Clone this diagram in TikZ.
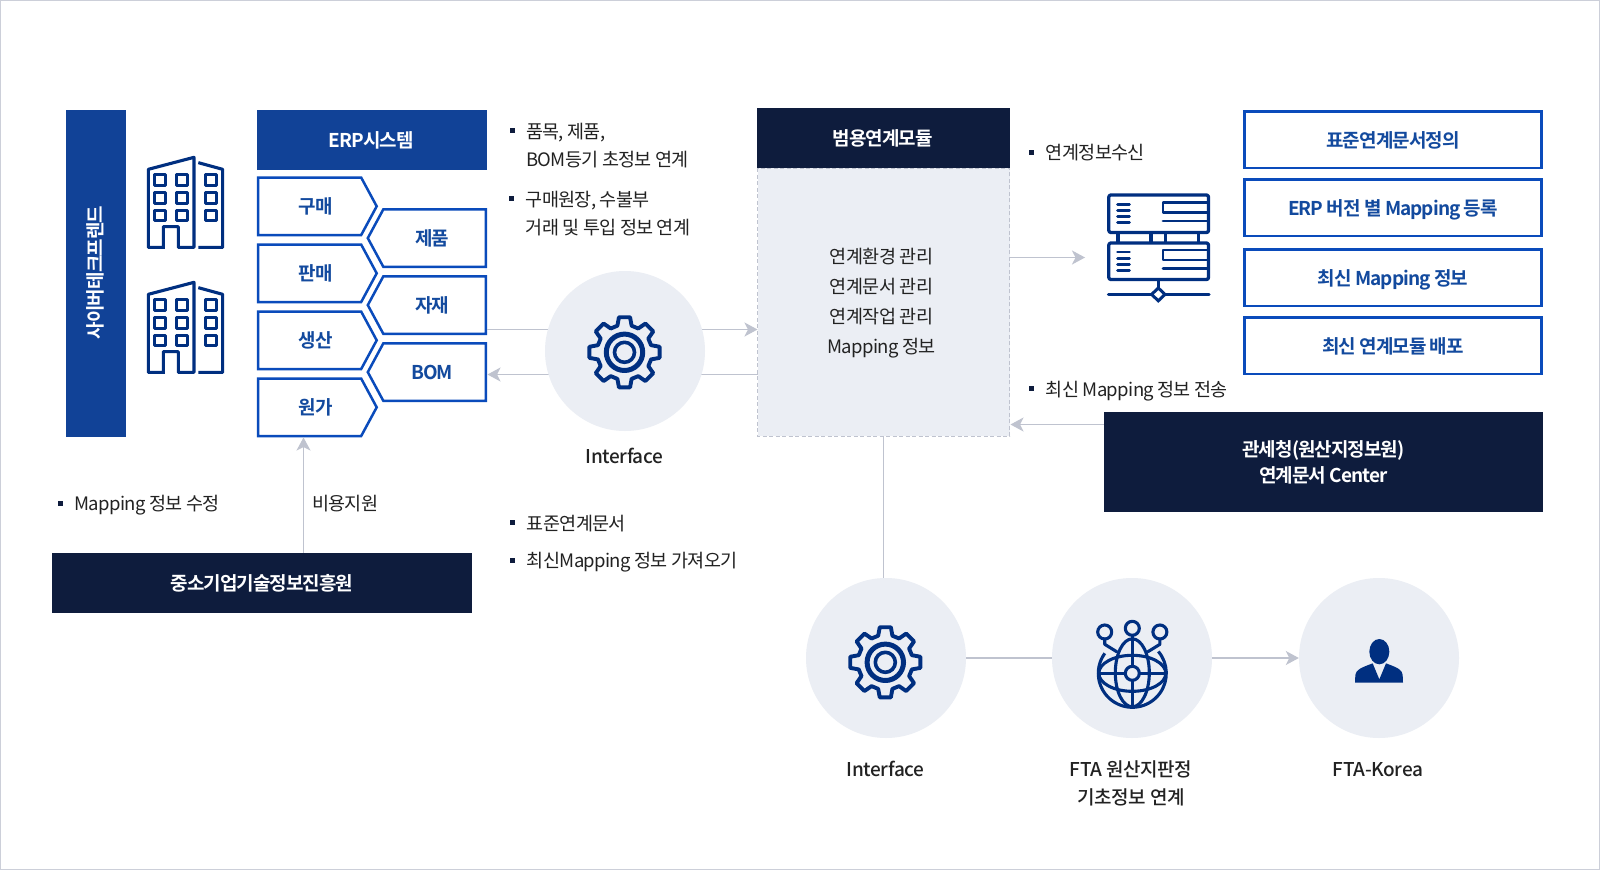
\documentclass[tikz,border=0pt]{standalone}
\usepackage{fontspec}
\usetikzlibrary{arrows.meta}
\setmainfont{Noto Sans CJK KR}
\newfontfamily\krreg{Noto Sans CJK KR}[LetterSpace=-3.5]
\newfontfamily\krmed{Noto Sans CJK KR Medium}[LetterSpace=-2]
\newfontfamily\krbold{Noto Sans CJK KR Bold}[LetterSpace=-5]
\definecolor{navy}{HTML}{0E1C3D}
\definecolor{erpblue}{HTML}{114297}
\definecolor{edgeblue}{HTML}{0A4BBB}
\definecolor{labelblue}{HTML}{134A9E}
\definecolor{iconblue}{HTML}{002F80}
\definecolor{pale}{HTML}{EBEEF4}
\definecolor{wire}{HTML}{BFC3CF}
\definecolor{ink}{HTML}{222222}
\tikzset{
  plaintext/.style={inner sep=0pt,text=ink,text height=16.6pt,text depth=2.6pt,font=\fontsize{18.5}{28}\selectfont\krreg},
  strongtext/.style={inner sep=0pt,text height=17.1pt,text depth=2.7pt,font=\fontsize{19}{26}\selectfont\krbold},
  inklabel/.style={inner sep=0pt,text=ink,text height=17.1pt,text depth=2.7pt,font=\fontsize{19}{26}\selectfont\krmed},
  outlinebox/.style={draw=edgeblue,line width=2.5pt,text=labelblue,strongtext,minimum width=297pt,minimum height=56.5pt},
  pentline/.style={draw=edgeblue,line width=2.5pt,line join=miter},
  wireline/.style={draw=wire,line width=1.1pt},
  wirearrow/.style={wireline,-{Stealth[length=13pt,width=14pt,inset=3.5pt]}},
  iconline/.style={draw=iconblue,line width=3.3pt,line cap=round,line join=round},
  disc/.style={fill=pale},
  bulletmark/.style={fill=navy,inner sep=0pt,minimum size=5pt}
}
\newcommand{\pentleft}[3]{%
  \draw[pentline] (258.2,#2) -- ++(103,0) -- ++(15.5,28.7) -- ++(-15.5,28.7) -- ++(-103,0) -- cycle;
  \node[strongtext,text=labelblue] (#1) at (315.8,#2+28.5) {#3};}
\newcommand{\pentright}[3]{%
  \draw[pentline] (485.8,#2) -- ++(-102.5,0) -- ++(-15.5,28.7) -- ++(15.5,28.7) -- ++(102.5,0) -- cycle;
  \node[strongtext,text=labelblue] (#1) at (432.2,#2+28.5) {#3};}
\newcommand{\bulletat}[2]{\node[bulletmark] at (#1,#2) {};}
\newcommand{\geardraw}[2]{%
  \begin{scope}[shift={(#1,#2)}]
    \draw[iconline,line width=3.9pt] (-15:27.5)
      foreach \a in {0,45,...,315}{ -- ({\a-9}:35.5) -- ({\a+9}:35.5) -- ({\a+15}:27.5) -- ({\a+30}:27.5) } -- cycle;
    \draw[iconline,line width=5pt] (0,0) circle[radius=18.2];
    \draw[iconline,line width=3.6pt] (0,0) circle[radius=10];
  \end{scope}}
\newcommand{\buildingdraw}[1]{%
  \begin{scope}[shift={(40,90+#1)},x=0.3333pt,y=-0.3333pt]
    \draw[iconline,line cap=butt,line width=3.1pt] (375,472) -- (325,472) -- (325,238) -- (462,202) -- (462,472) -- (415,472) -- (415,410) -- (370,410) -- (370,472);
    \draw[iconline,line cap=butt,line width=3.1pt] (475,218) -- (548,238) -- (548,472) -- (475,472);
    \foreach \xa in {343,410} \foreach \ya in {255,308,361}
      \draw[iconline,line width=3pt] (\xa,\ya) rectangle ++(34,32);
    \foreach \ya in {255,308,361}
      \draw[iconline,line width=3pt] (497,\ya) rectangle ++(34,32);
  \end{scope}}
\newcommand{\serverunit}[2]{%
  \draw[iconline,rounded corners=2pt] (1108.8,#1) rectangle (1208.5,#2);}
\begin{document}
\begin{tikzpicture}[x=1pt,y=-1pt]
\useasboundingbox (0,0) rectangle (1600,870);
\fill[white] (0,0) rectangle (1600,870);
\draw[draw=wire!80!white,line width=1pt] (0.5,0.5) rectangle (1599.5,869.5);

% left bar and buildings
\fill[erpblue] (66,110) rectangle (126,437);
\node[strongtext,text=white,rotate=90] (company) at (95.5,272.5) {사이버테크프렌드};
\buildingdraw{0}
\buildingdraw{125}

% ERP
\node[fill=erpblue,minimum width=230pt,minimum height=60pt] (erp) at (372,140) {};
\node[strongtext,text=white] at (371.2,140) {ERP시스템};
\pentleft{buy}{177.6}{구매}
\pentleft{sell}{244.6}{판매}
\pentleft{make}{311.6}{생산}
\pentleft{cost}{378.6}{원가}
\pentright{goods}{209.4}{제품}
\pentright{parts}{276.4}{자재}
\pentright{bom}{343.4}{BOM}

% connector coordinates
\coordinate (partsout) at (487,329.5);
\coordinate (modin) at (757.5,329.5);
\coordinate (modout) at (757.5,374.5);
\coordinate (bomin) at (487.5,374.5);
\draw[wirearrow] (partsout) -- (modin);
\draw[wirearrow] (modout) -- (bomin);

% module panel
\fill[pale] (757.5,168) rectangle (1009.8,436);
\draw[wire,line width=1pt,dash pattern=on 4pt off 2.5pt] (757.5,168) -- (757.5,436) -- (1009.8,436) -- (1009.8,168) -- cycle;
\node[fill=navy,minimum width=253pt,minimum height=60.5pt] (module) at (883.6,138) {};
\node[strongtext,text=white] at (882.6,138.5) {범용연계모듈};
\node[plaintext] at (881.5,256.5) {연계환경 관리};
\node[plaintext] at (881.5,286.5) {연계문서 관리};
\node[plaintext] at (881.5,316.5) {연계작업 관리};
\node[plaintext] at (881.5,346.5) {Mapping 정보};

% interface hub
\fill[disc] (625,351) circle[radius=80];
\geardraw{624.5}{352.3}
\node[inklabel] (hubtext) at (624.3,456.7) {Interface};

% text lists
\bulletat{512.7}{130.7}
\node[plaintext,anchor=west] at (526,131) {품목, 제품,};
\node[plaintext,anchor=west] at (526,159.3) {BOM등기 초정보 연계};
\bulletat{511.7}{198.3}
\node[plaintext,anchor=west] at (525.5,199) {구매원장, 수불부};
\node[plaintext,anchor=west] at (525.5,227.3) {거래 및 투입 정보 연계};
\bulletat{512.7}{522.3}
\node[plaintext,anchor=west] at (526.7,523) {표준연계문서};
\bulletat{512.7}{560}
\node[plaintext,anchor=west] at (526.7,560) {최신Mapping 정보 가져오기};
\bulletat{60}{503}
\node[plaintext,anchor=west] at (74.4,503) {Mapping 정보 수정};
\node[plaintext,anchor=west] at (312,503) {비용지원};
\bulletat{1031.4}{152}
\node[plaintext,anchor=west] at (1045.7,152) {연계정보수신};
\bulletat{1031.4}{388.3}
\node[plaintext,anchor=west] at (1045.7,389) {최신 Mapping 정보 전송};

% support box
\node[fill=navy,minimum width=420pt,minimum height=60pt] (support) at (262,583) {};
\node[strongtext,text=white] at (262,583.3) {중소기업기술정보진흥원};
\coordinate (costin) at (303.5,437.5);
\draw[wirearrow] (support.north -| costin) -- (costin);

% server arrow and icon
\coordinate (srvin) at (1085,257.5);
\draw[wirearrow] (1009.8,257.5) -- (srvin);
\serverunit{195}{232.5}
\serverunit{243}{279.5}
\draw[iconline,line cap=butt] (1118,233) -- (1118,243) (1151,233) -- (1151,243) (1165.7,233) -- (1165.7,243);
\draw[iconline,line cap=butt] (1198.3,233) -- (1198.3,243);
\foreach \yy in {204.3,210.7,216.7,222.7,252,258.3,264.3,270.3}
  \draw[iconline,line width=2.9pt] (1117.5,\yy) -- (1129.5,\yy);
\draw[iconline,line width=2.9pt,line cap=butt] (1207,202.6) -- (1163,202.6) -- (1163,212.4) -- (1207,212.4);
\draw[iconline,line width=2.9pt] (1207,221) -- (1163,221);
\draw[iconline,line width=2.9pt,line cap=butt] (1207,250) -- (1163,250) -- (1163,260) -- (1207,260);
\draw[iconline,line width=2.9pt] (1207,268.7) -- (1163,268.7);
\draw[iconline,line cap=butt] (1158.3,280) -- (1158.3,288);
\draw[iconline] (1108.5,294.4) -- (1209,294.4);
\draw[iconline,fill=white,line width=3pt,line join=miter] (1158.3,288) -- (1165,294.4) -- (1158.3,300.8) -- (1151.6,294.4) -- cycle;

% right boxes
\node[outlinebox] (std) at (1393,139.8) {표준연계문서정의};
\node[outlinebox] (ver) at (1393,207.8) {ERP 버전 별 Mapping 등록};
\node[outlinebox] (map) at (1393,277.8) {최신 Mapping 정보};
\node[outlinebox] (dist) at (1393,345.8) {최신 연계모듈 배포};

% customs box
\node[fill=navy,minimum width=438.5pt,minimum height=100pt] (customs) at (1323.3,462) {};
\node[strongtext,text=white] at (1323.5,449) {관세청(원산지정보원)};
\node[strongtext,text=white] at (1323.5,475) {연계문서 Center};
\coordinate (modin2) at (1010.5,424.5);
\draw[wirearrow] (customs.west |- modin2) -- (modin2);

% lower row
\coordinate (modbot) at (883.5,436);
\coordinate (lowtop) at (883.5,578);
\draw[wireline] (modbot) -- (lowtop);
\node[circle,disc,minimum size=160pt,inner sep=0pt] (c1) at (886,658) {};
\node[circle,disc,minimum size=160pt,inner sep=0pt] (c2) at (1132,658) {};
\node[circle,disc,minimum size=160pt,inner sep=0pt] (c3) at (1379,658) {};
\draw[wireline] (c1) -- (c2);
\draw[wirearrow] (c2) -- (c3);
\geardraw{885.3}{662.3}

% globe
\begin{scope}[shift={(1132.3,673.3)}]
  \draw[iconline,line width=3.1pt,line cap=butt] ([shift={(-144:34)}]0,0) arc[start angle=-144,end angle=-400,radius=34];
  \draw[iconline,line width=3.1pt] (0,0) ellipse[x radius=33.5,y radius=18];
  \draw[iconline,line width=3.1pt] (0,-38) -- (0,34) (-34,0) -- (34,0);
  \draw[iconline,line width=3.1pt] (0,-0.5) ellipse[x radius=17,y radius=34];
  \draw[iconline,line width=3.1pt,fill=pale] (0,0) circle[radius=7];
  \draw[iconline,line width=3.1pt,fill=pale] (0,-45) circle[radius=7];
  \draw[iconline,line width=3.1pt,fill=pale] (-27.6,-41.3) circle[radius=7];
  \draw[iconline,line width=3.1pt,fill=pale] (27.6,-41.3) circle[radius=7];
  \draw[iconline,line width=3.1pt] (-27.6,-34.3) -- (-27.6,-29) -- (-15.6,-21.6);
  \draw[iconline,line width=3.1pt] (27.6,-34.3) -- (27.6,-29) -- (15.6,-21.6);
\end{scope}

% person
\begin{scope}[shift={(1340,630)},x=0.3333pt,y=-0.3333pt]
  \fill[iconblue] (118,65) ellipse[x radius=30,y radius=38];
  \fill[iconblue] (45,158) -- (46,135) .. controls (48,120) and (60,114) .. (98,100) -- (118,148) -- (138,100) .. controls (176,114) and (186,120) .. (188,135) -- (189,158) -- cycle;
\end{scope}

\node[inklabel] at (885.5,769.3) {Interface};
\node[inklabel] (ftatext) at (1131,769.3) {FTA 원산지판정};
\node[inklabel] at (1131,797.7) {기초정보 연계};
\node[inklabel] at (1378,769.3) {FTA-Korea};
\end{tikzpicture}
\end{document}
